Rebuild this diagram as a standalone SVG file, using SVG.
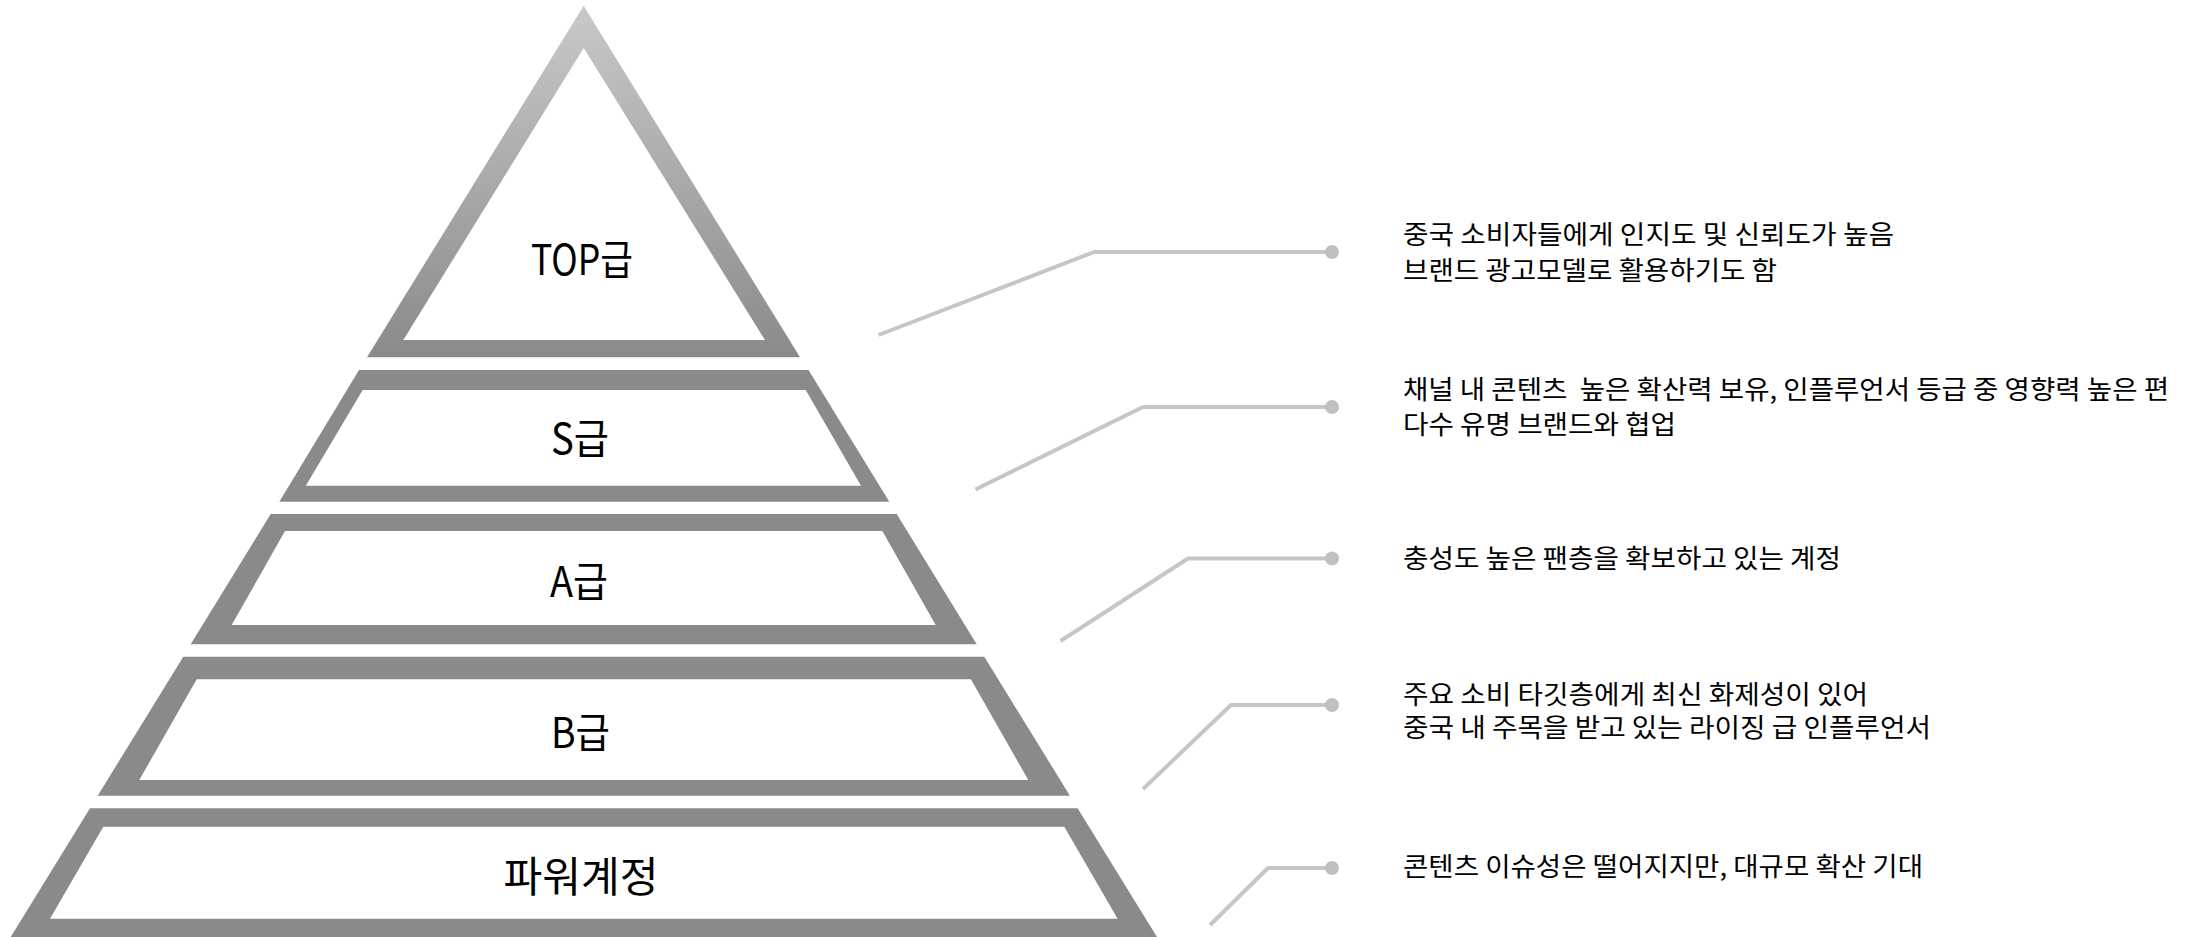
<svg xmlns="http://www.w3.org/2000/svg" width="2200" height="937" viewBox="0 0 2200 937">
  <defs>
    <linearGradient id="topGrad" x1="0" y1="0" x2="0" y2="1">
      <stop offset="0" stop-color="#c9c9c9"/>
      <stop offset="1" stop-color="#8a8a8a"/>
    </linearGradient>
    <style>
      .tier { fill: #8a8a8a; fill-rule: evenodd; }
      .label { font-family: "Noto Sans CJK KR", "Noto Sans", sans-serif; font-size: 42px; fill: #000; text-anchor: middle; }
      .desc { font-family: "Noto Sans CJK KR", "Noto Sans", sans-serif; font-size: 26px; fill: #000; }
      .conn { fill: none; stroke: #c6c6c6; stroke-width: 4; stroke-linejoin: round; }
      .dot { fill: #c0c0c0; }
    </style>
  </defs>
  <rect width="2200" height="937" fill="#ffffff"/>

  <g id="tier-top">
    <path fill="url(#topGrad)" fill-rule="evenodd" d="M583.7,5.7 L800,357.3 L367,357.3 Z M583.7,48 L403.3,340 L765,340 Z"/>
    <text class="label" x="582" y="275" textLength="102" lengthAdjust="spacingAndGlyphs">TOP급</text>
  </g>
  <g id="tier-s">
    <path class="tier" d="M359,370 L808.5,370 L889.3,501.7 L279.3,501.7 Z M362.7,390 L305.8,485.7 L861,485.7 L805.7,390 Z"/>
    <text class="label" x="580" y="454" textLength="58" lengthAdjust="spacingAndGlyphs">S급</text>
  </g>
  <g id="tier-a">
    <path class="tier" d="M270.7,514 L896.7,514 L976.7,644.3 L190.7,644.3 Z M285,531 L231.7,625 L935.7,625 L882.3,531 Z"/>
    <text class="label" x="579" y="597" textLength="58" lengthAdjust="spacingAndGlyphs">A급</text>
  </g>
  <g id="tier-b">
    <path class="tier" d="M183.3,656.7 L984.3,656.7 L1069.9,795.7 L97.7,795.7 Z M196.7,679.3 L139.3,780 L1028.3,780 L970.9,679.3 Z"/>
    <text class="label" x="580.5" y="748" textLength="59" lengthAdjust="spacingAndGlyphs">B급</text>
  </g>
  <g id="tier-power">
    <path class="tier" d="M90,808.3 L1077.6,808.3 L1157,937 L10.7,937 Z M103.3,826.7 L50,918.7 L1117.6,918.7 L1064.3,826.7 Z"/>
    <text class="label" x="581" y="892" textLength="155" lengthAdjust="spacingAndGlyphs">파워계정</text>
  </g>

  <g id="connectors">
    <polyline class="conn" points="1332,252 1094,252 878.5,335"/>
    <circle class="dot" cx="1332" cy="252" r="7"/>
    <polyline class="conn" points="1332,407 1143,407 975.5,489.5"/>
    <circle class="dot" cx="1332" cy="407" r="7"/>
    <polyline class="conn" points="1332,558.5 1188,558.5 1060.5,641"/>
    <circle class="dot" cx="1332" cy="558.5" r="7"/>
    <polyline class="conn" points="1332,705 1231,705 1143,789"/>
    <circle class="dot" cx="1332" cy="705" r="7"/>
    <polyline class="conn" points="1332,868 1268,868 1210,925"/>
    <circle class="dot" cx="1332" cy="868" r="7"/>
  </g>

  <g id="desc-top">
    <text class="desc" x="1403" y="244" textLength="491" lengthAdjust="spacingAndGlyphs">중국 소비자들에게 인지도 및 신뢰도가 높음</text>
    <text class="desc" x="1403" y="280" textLength="374" lengthAdjust="spacingAndGlyphs">브랜드 광고모델로 활용하기도 함</text>
  </g>
  <g id="desc-s">
    <text class="desc" x="1403" y="398.5" xml:space="preserve" textLength="766" lengthAdjust="spacingAndGlyphs">채널 내 콘텐츠  높은 확산력 보유, 인플루언서 등급 중 영향력 높은 편</text>
    <text class="desc" x="1403" y="434" textLength="273" lengthAdjust="spacingAndGlyphs">다수 유명 브랜드와 협업</text>
  </g>
  <g id="desc-a">
    <text class="desc" x="1403" y="568" textLength="438" lengthAdjust="spacingAndGlyphs">충성도 높은 팬층을 확보하고 있는 계정</text>
  </g>
  <g id="desc-b">
    <text class="desc" x="1403" y="704" textLength="465" lengthAdjust="spacingAndGlyphs">주요 소비 타깃층에게 최신 화제성이 있어</text>
    <text class="desc" x="1403" y="737" textLength="528" lengthAdjust="spacingAndGlyphs">중국 내 주목을 받고 있는 라이징 급 인플루언서</text>
  </g>
  <g id="desc-power">
    <text class="desc" x="1403" y="876" textLength="520" lengthAdjust="spacingAndGlyphs">콘텐츠 이슈성은 떨어지지만, 대규모 확산 기대</text>
  </g>
</svg>
